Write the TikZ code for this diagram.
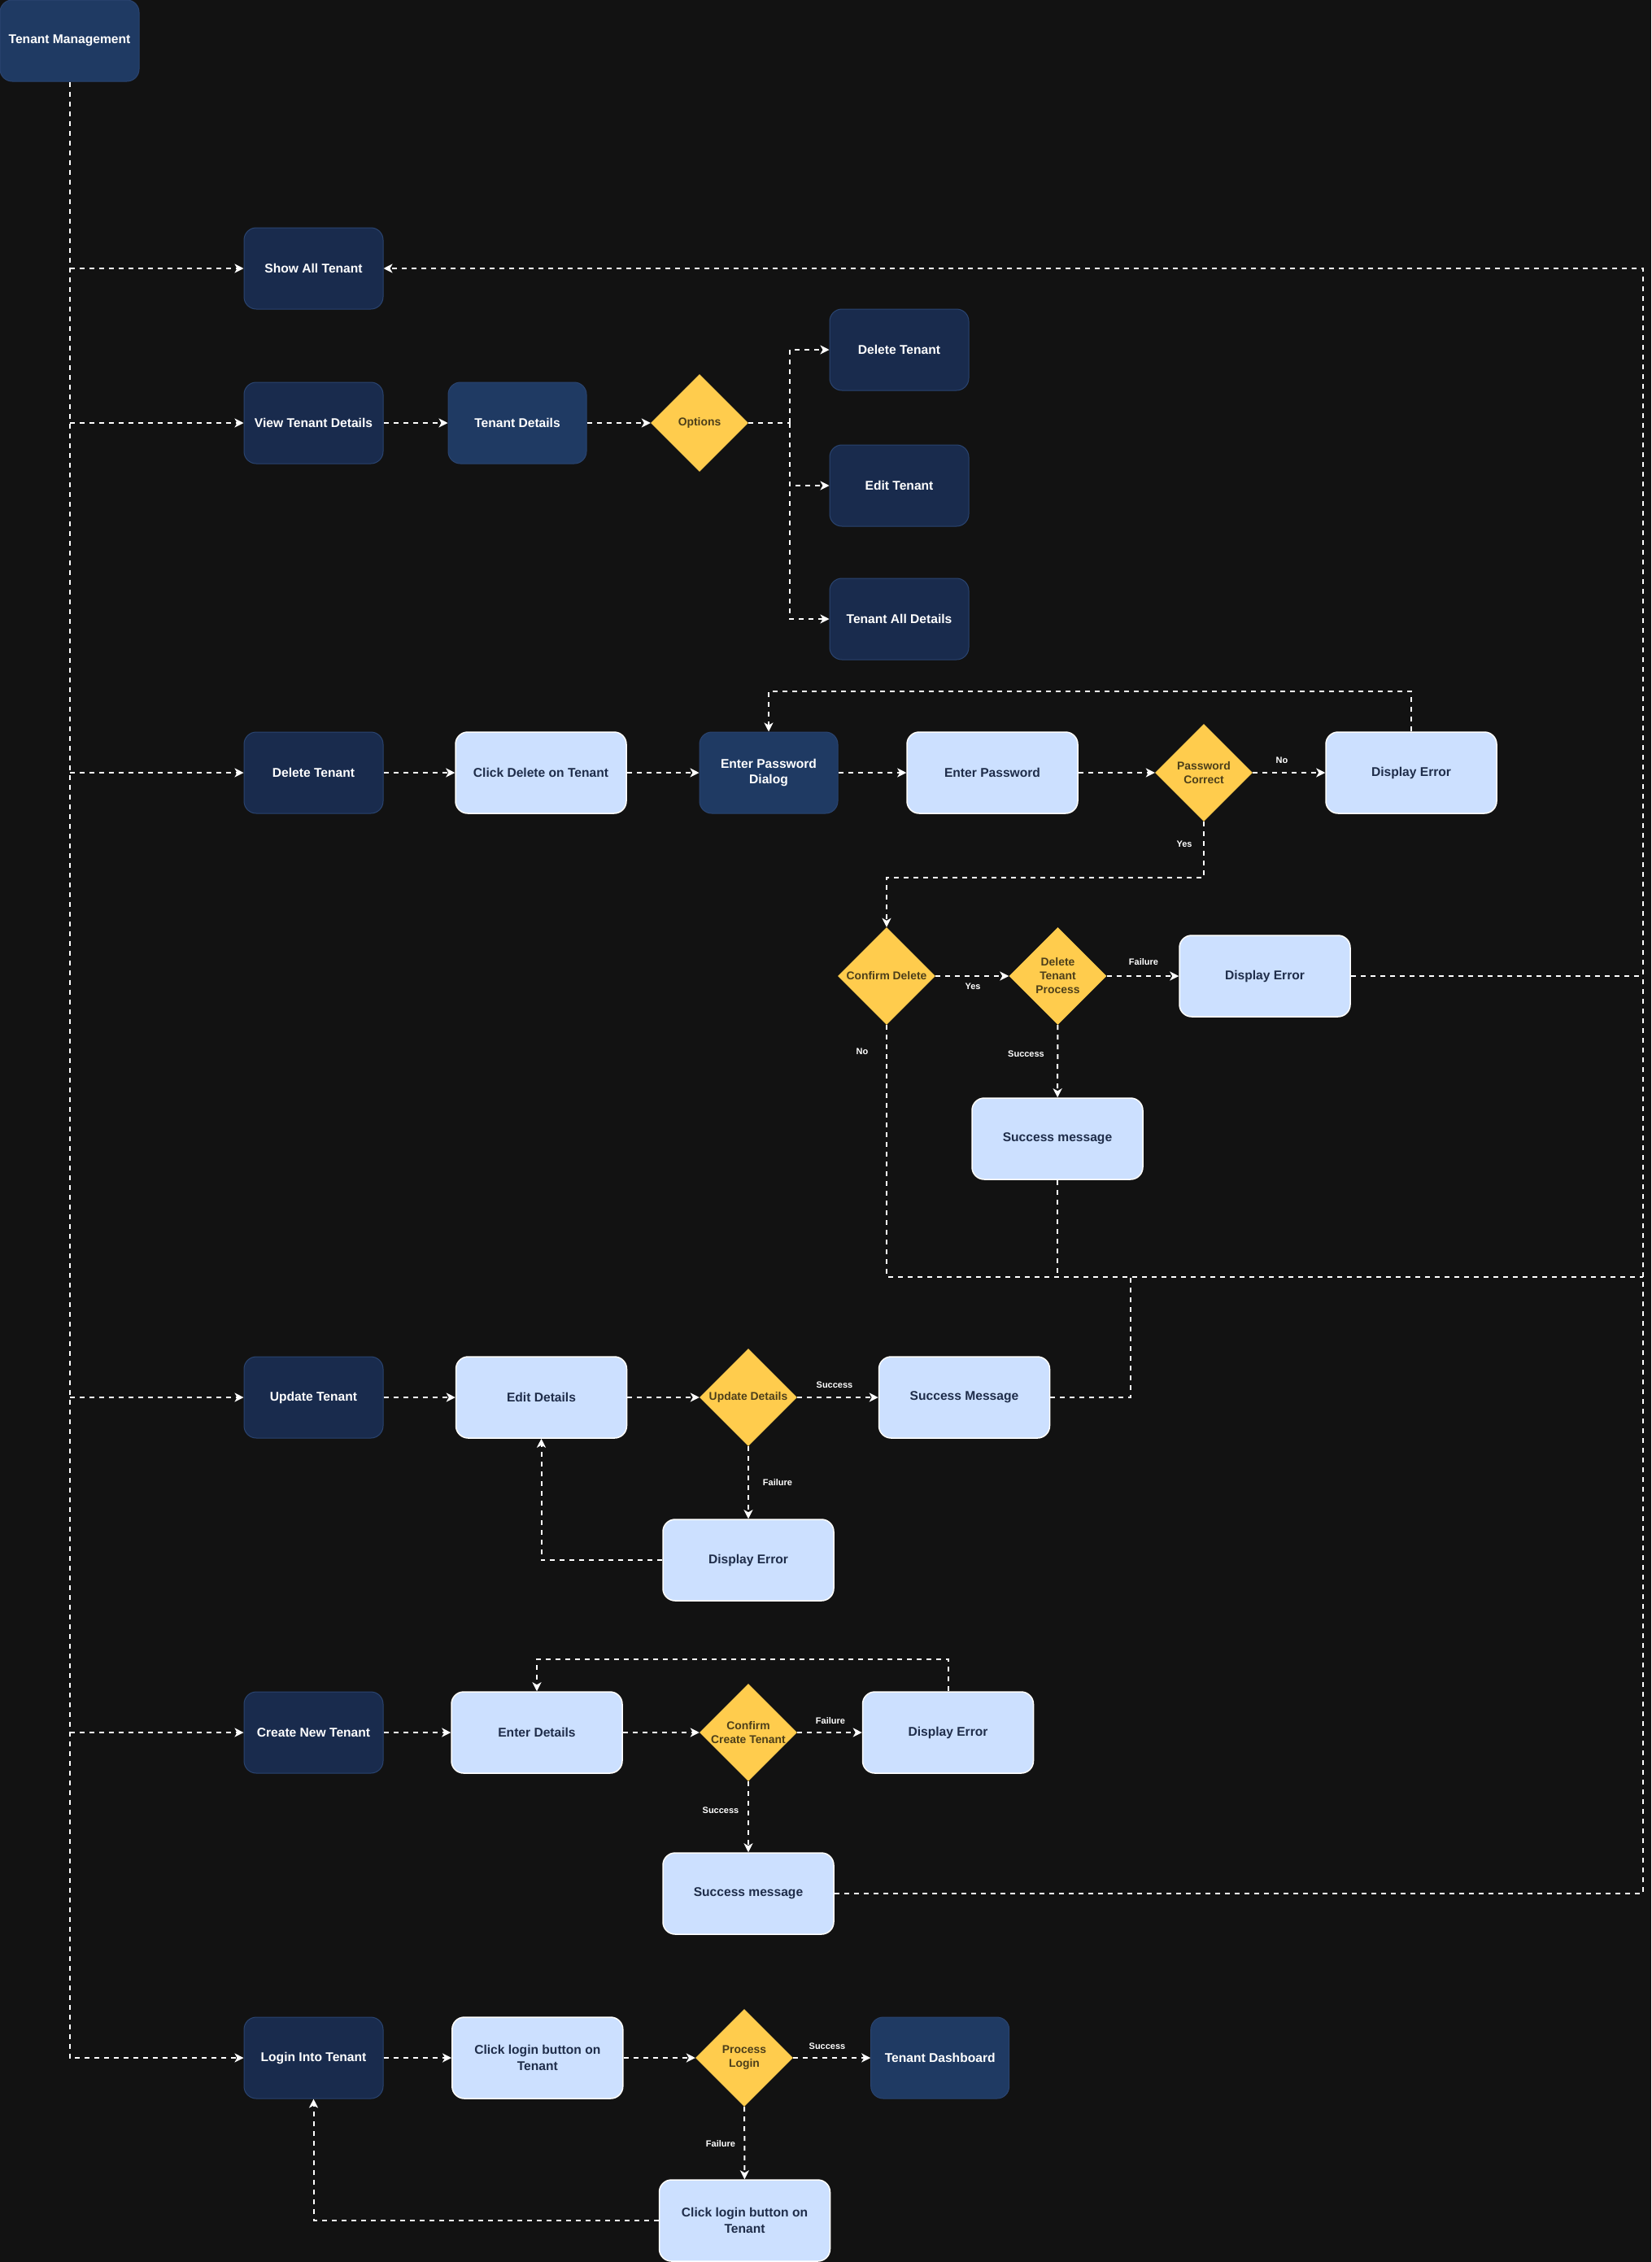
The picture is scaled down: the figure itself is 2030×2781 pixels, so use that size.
\documentclass[tikz,border=0pt]{standalone}
\usepackage{fontspec}
\setmainfont{Liberation Sans}
\usetikzlibrary{shapes.geometric,arrows.meta}

\definecolor{canvas}{HTML}{121212}
\definecolor{navyfill}{HTML}{192B4D}
\definecolor{deepfill}{HTML}{1F3A63}
\definecolor{navyedge}{HTML}{2A4470}
\definecolor{palefill}{HTML}{CCE0FF}
\definecolor{paletext}{HTML}{1F2D4A}
\definecolor{gold}{HTML}{FFCC4D}
\definecolor{goldtext}{HTML}{4D3F1A}

\begin{document}
\begin{tikzpicture}[x=1pt,y=-1pt,
  box/.style={rounded corners=15pt, minimum width=171pt, minimum height=100pt,
    inner sep=0pt, align=center, font=\fontsize{15.6}{19.5}\selectfont\bfseries},
  navy/.style={box, fill=navyfill, draw=navyedge, line width=1pt, text=white},
  deep/.style={box, fill=deepfill, draw=navyedge, line width=1pt, text=white},
  pale/.style={box, fill=palefill, draw=white, line width=1.5pt, text=paletext, minimum width=210pt},
  choicetext/.style={align=center, text=goldtext, inner sep=0pt,
    font=\fontsize{13.9}{17}\selectfont\bfseries},
  choice/.style={diamond, fill=gold, minimum width=120pt, minimum height=120pt,
    inner sep=0pt, label={[choicetext]center:#1}},
  link/.style={draw=white, line width=2pt, dash pattern=on 6pt off 6pt},
  flow/.style={link, -{Stealth[length=11pt,width=11pt,inset=3pt]}},
  tag/.style={text=white, inner sep=1pt, font=\fontsize{11}{13}\selectfont\bfseries}
]
% background and page frame
\fill[canvas] (0,0) rectangle (2030,2781);
\useasboundingbox (0,0) rectangle (2030,2781);

% root
\node[deep, minimum width=171pt] (tm) at (85.5,50) {Tenant Management};

% first column of actions
\node[navy] (show) at (385.5,330)  {Show All Tenant};
\node[navy] (view) at (385.5,520)  {View Tenant Details};
\node[navy] (dt)   at (385.5,950)  {Delete Tenant};
\node[navy] (ut)   at (385.5,1718) {Update Tenant};
\node[navy] (cnt)  at (385.5,2130) {Create New Tenant};
\node[navy] (lit)  at (385.5,2530) {Login Into Tenant};

% view tenant details branch
\node[deep, minimum width=170pt] (tdet) at (636,520) {Tenant Details};
\node[choice={Options}] (opt) at (860,520) {};
\node[navy] (odel)  at (1105.5,430) {Delete Tenant};
\node[navy] (oedit) at (1105.5,597) {Edit Tenant};
\node[navy] (oall)  at (1105.5,761) {Tenant All Details};

% delete tenant branch
\node[pale] (cdel) at (665,950) {Click Delete on Tenant};
\node[deep, minimum width=170pt] (epd) at (945,950) {Enter Password\\Dialog};
\node[pale] (ep)   at (1220,950) {Enter Password};
\node[choice={Password\\Correct}] (pc) at (1480,950) {};
\node[pale] (de1)  at (1735,950) {Display Error};
\node[choice={Confirm Delete}] (cd) at (1090,1200) {};
\node[choice={Delete\\Tenant\\Process}] (dtp) at (1300.5,1200) {};
\node[pale] (de2)  at (1555,1200) {Display Error};
\node[pale] (sm1)  at (1300,1400) {Success message};

% update tenant branch
\node[pale] (ed)   at (665.5,1718) {Edit Details};
\node[choice={Update Details}] (ud) at (920,1718) {};
\node[pale] (sm2)  at (1185.5,1718) {Success Message};
\node[pale] (de3)  at (920,1918) {Display Error};

% create tenant branch
\node[pale] (end)  at (660,2130) {Enter Details};
\node[choice={Confirm\\Create Tenant}] (cct) at (920,2130) {};
\node[pale] (de4)  at (1165.5,2130) {Display Error};
\node[pale] (sm3)  at (920,2328) {Success message};

% login branch
\node[pale] (clb)  at (660.8,2530) {Click login button on\\Tenant};
\node[choice={Process\\Login}] (pl) at (915,2530) {};
\node[deep, minimum width=170pt] (tdash) at (1155.7,2530) {Tenant Dashboard};
\node[pale] (clb2) at (915.5,2730) {Click login button on\\Tenant};

% routing points
\coordinate (j1)   at (85.5,330);
\coordinate (j2)   at (85.5,520);
\coordinate (j3)   at (85.5,950);
\coordinate (j4)   at (85.5,1718);
\coordinate (j5)   at (85.5,2130);
\coordinate (br)   at (971,520);
\coordinate (rtop) at (2020,330);
\coordinate (rmid) at (2020,1200);
\coordinate (rbot) at (2020,1570);
\coordinate (sj)   at (1300,1570);
\coordinate (uj)   at (1390,1570);
\coordinate (l1)   at (1735,850);
\coordinate (ym)   at (1480,1079);
\coordinate (l4)   at (1165.5,2040);

% trunk from the root, branching off to each action
\draw[flow] (tm.south) |- (lit.west);
\draw[flow] (j1) -- (show.west);
\draw[flow] (j2) -- (view.west);
\draw[flow] (j3) -- (dt.west);
\draw[flow] (j4) -- (ut.west);
\draw[flow] (j5) -- (cnt.west);

% view details
\draw[flow] (view) -- (tdet);
\draw[flow] (tdet) -- (opt);
\draw[link] (opt.east) -- (br);
\draw[flow] (br) |- (odel.west);
\draw[flow] (br) |- (oedit.west);
\draw[flow] (br) |- (oall.west);

% delete
\draw[flow] (dt) -- (cdel);
\draw[flow] (cdel) -- (epd);
\draw[flow] (epd) -- (ep);
\draw[flow] (ep) -- (pc);
\draw[flow] (pc) -- (de1);
\draw[flow] (de1.north) -- (l1) -| (epd.north);
\draw[flow] (pc.south) -- (ym) -| (cd.north);
\draw[flow] (cd) -- (dtp);
\draw[flow] (dtp) -- (de2);
\draw[flow] (dtp) -- (sm1);
\draw[link] (de2.east) -- (rmid);
\draw[link] (cd.south) |- (rbot);
\draw[link] (sm1.south) -- (sj);

% update
\draw[flow] (ut) -- (ed);
\draw[flow] (ed) -- (ud);
\draw[flow] (ud) -- (sm2);
\draw[flow] (ud) -- (de3);
\draw[flow] (de3.west) -| (ed.south);
\draw[link] (sm2.east) -| (uj);

% create
\draw[flow] (cnt) -- (end);
\draw[flow] (end) -- (cct);
\draw[flow] (cct) -- (de4);
\draw[flow] (cct) -- (sm3);
\draw[flow] (de4.north) -- (l4) -| (end.north);

% shared return path back to the list of tenants
\draw[flow] (sm3.east) -| (rtop) -- (show.east);

% login
\draw[flow] (lit) -- (clb);
\draw[flow] (clb) -- (pl);
\draw[flow] (pl) -- (tdash);
\draw[flow] (pl) -- (clb2);
\draw[flow] (clb2.west) -| (lit.south);

% edge labels
\node[tag] (t1)  at (1576,935)   {No};
\node[tag] (t2)  at (1456,1038)  {Yes};
\node[tag] (t3)  at (1196,1213)  {Yes};
\node[tag] (t4)  at (1406,1183)  {Failure};
\node[tag] (t5)  at (1060,1293)  {No};
\node[tag] (t6)  at (1261.5,1296) {Success};
\node[tag] (t7)  at (1026,1703)  {Success};
\node[tag] (t8)  at (956,1823)   {Failure};
\node[tag] (t9)  at (1021,2116)  {Failure};
\node[tag] (t10) at (886,2226)   {Success};
\node[tag] (t11) at (1017,2516)  {Success};
\node[tag] (t12) at (886,2636)   {Failure};
\end{tikzpicture}
\end{document}
